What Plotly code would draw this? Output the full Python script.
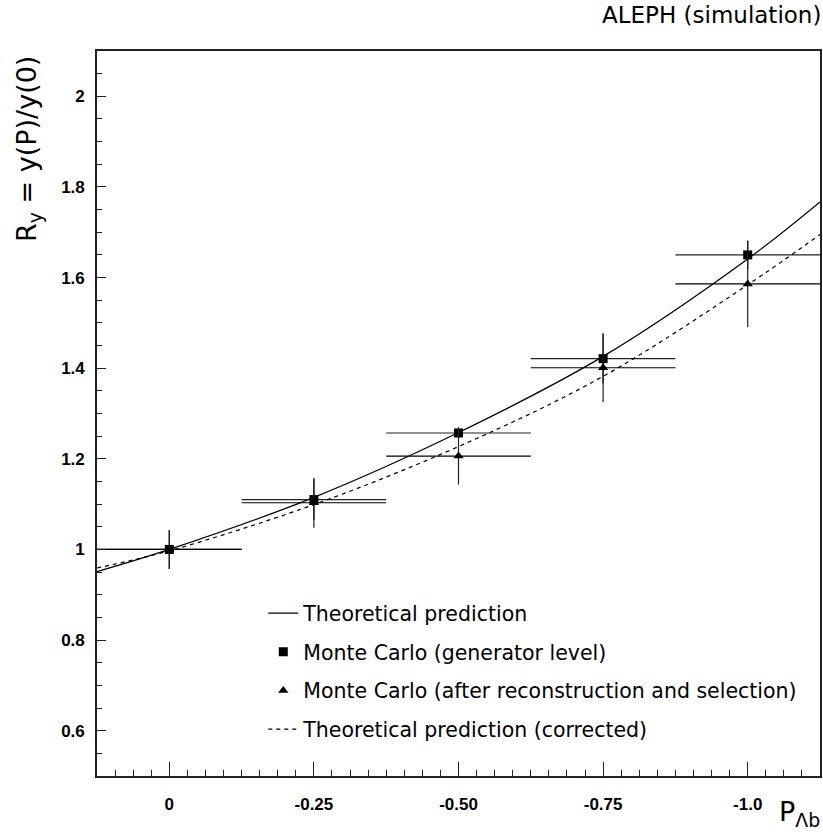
import plotly.graph_objects as go

# ---- data ----
P_points = [0.0, -0.25, -0.50, -0.75, -1.0]
P_halfbin = [0.125, 0.125, 0.125, 0.125, 0.125]

R_gen = [1.000, 1.110, 1.257, 1.421, 1.650]
R_gen_err = [0.043, 0.045, 0.012, 0.055, 0.031]

R_rec = [1.000, 1.103, 1.206, 1.401, 1.586]
R_rec_err = [0.043, 0.055, 0.063, 0.076, 0.095]

P_curve = [0.125, 0.0, -0.25, -0.50, -0.75, -1.0, -1.125]
R_theory = [0.951, 1.000, 1.115, 1.258, 1.426, 1.641, 1.767]
R_theory_corr = [0.959, 0.997, 1.099, 1.227, 1.382, 1.584, 1.695]

x_label_vals = [0.0, -0.25, -0.50, -0.75, -1.0]
x_label_text = ["0", "-0.25", "-0.50", "-0.75", "-1.0"]
x_unlabeled_major = [-0.125, -0.375, -0.625, -0.875]

TXT_FONT = "DejaVu Sans"
TICK_FONT = "Liberation Sans"
X_RANGE = [0.125, -1.125]

fig = go.Figure()

fig.add_trace(go.Scatter(
    x=P_curve, y=R_theory, mode="lines", name="Theoretical prediction",
    line=dict(color="black", width=1.3, shape="spline", smoothing=1.0),
    legendgroup="a",
))
fig.add_trace(go.Scatter(
    x=P_points, y=R_gen, mode="markers", name="Monte Carlo (generator level)",
    marker=dict(symbol="square", size=9, color="black"),
    error_y=dict(type="data", array=R_gen_err, width=0, thickness=1.2, color="black"),
    error_x=dict(type="data", array=P_halfbin, width=0, thickness=1.2, color="#222"),
    legendgroup="b",
))
fig.add_trace(go.Scatter(
    x=P_points, y=R_rec, mode="markers",
    name="Monte Carlo (after reconstruction and selection)",
    marker=dict(symbol="triangle-up", size=9, color="black"),
    error_y=dict(type="data", array=R_rec_err, width=0, thickness=1.2, color="#222"),
    error_x=dict(type="data", array=P_halfbin, width=0, thickness=1.2, color="black"),
    legendgroup="c",
))
fig.add_trace(go.Scatter(
    x=P_curve, y=R_theory_corr, mode="lines",
    name="Theoretical prediction (corrected)",
    line=dict(color="black", width=1.2, dash="4px,4px", shape="spline", smoothing=1.0),
    legendgroup="d",
))

fig.update_layout(
    width=823, height=838,
    margin=dict(l=97, r=1, t=51, b=62),
    paper_bgcolor="white", plot_bgcolor="white",
    showlegend=True,
    legend=dict(
        x=0.23, y=0.252, xanchor="left", yanchor="top",
        bgcolor="rgba(0,0,0,0)", borderwidth=0,
        font=dict(family=TXT_FONT, size=20.5, color="black"),
        traceorder="grouped", tracegroupgap=9,
    ),
    xaxis=dict(
        range=X_RANGE, showgrid=False, zeroline=False,
        showline=True, linecolor="#222", linewidth=1.6, mirror=True,
        tickmode="array", tickvals=x_label_vals, ticktext=x_label_text,
        ticks="inside", ticklen=14, tickwidth=1, tickcolor="#222",
        ticklabelstandoff=12,
        tickfont=dict(family=TICK_FONT, size=17, color="black", weight="bold"),
        minor=dict(dtick=0.03125, tick0=0, ticks="inside", ticklen=6,
                   tickwidth=1, tickcolor="#222"),
    ),
    xaxis2=dict(
        range=X_RANGE, overlaying="x", anchor="y", side="bottom",
        showgrid=False, zeroline=False, showline=False,
        tickmode="array", tickvals=x_unlabeled_major, showticklabels=False,
        ticks="inside", ticklen=14, tickwidth=1, tickcolor="#222",
    ),
    yaxis=dict(
        range=[0.5, 2.1], showgrid=False, zeroline=False,
        showline=True, linecolor="#222", linewidth=1.6, mirror=True,
        tick0=0, dtick=0.2,
        ticks="inside", ticklen=9, tickwidth=1, tickcolor="#222",
        ticklabelstandoff=7,
        tickfont=dict(family=TICK_FONT, size=17, color="black", weight="bold"),
        minor=dict(dtick=0.05, tick0=0, ticks="inside", ticklen=5,
                   tickwidth=1, tickcolor="#222"),
    ),
    annotations=[
        dict(text="ALEPH (simulation)", xref="paper", yref="paper",
             x=1.0, y=1.0, xanchor="right", yanchor="bottom", yshift=21, xshift=3,
             showarrow=False, font=dict(family=TXT_FONT, size=23, color="black")),
        dict(text="R<sub>y</sub> = y(P)/y(0)", xref="paper", yref="paper",
             x=0, y=1.0, xshift=-69, yshift=-3, xanchor="center", yanchor="top",
             textangle=-90, showarrow=False,
             font=dict(family=TXT_FONT, size=27, color="black")),
        dict(text="P<sub>Λb</sub>", xref="paper", yref="paper",
             x=1.0, y=0, xanchor="right", yanchor="top", yshift=-18, xshift=2,
             showarrow=False, font=dict(family=TXT_FONT, size=27, color="black")),
    ],
)

fig.write_html("out.html")
